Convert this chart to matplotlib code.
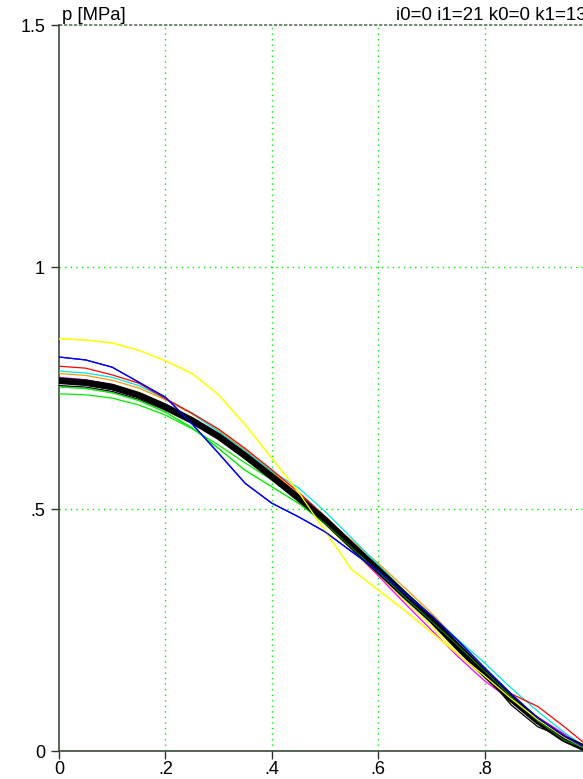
import matplotlib
matplotlib.use("Agg")
import matplotlib.pyplot as plt

plt.rcParams['font.family'] = ['Liberation Sans', 'DejaVu Sans']

x = [0.00, 0.05, 0.10, 0.15, 0.20, 0.25, 0.30, 0.35, 0.40, 0.45, 0.50,
     0.55, 0.60, 0.65, 0.70, 0.75, 0.80, 0.85, 0.90, 0.95, 1.00]

mean_p = [0.765, 0.761, 0.752, 0.735, 0.711, 0.683, 0.650, 0.610, 0.567, 0.523, 0.477,
          0.425, 0.374, 0.322, 0.272, 0.215, 0.160, 0.108, 0.062, 0.025, 0.000]
yellow1 = [0.852, 0.849, 0.843, 0.828, 0.806, 0.780, 0.736, 0.674, 0.605, 0.535, 0.455,
           0.375, 0.333, 0.290, 0.245, 0.200, 0.155, 0.108, 0.065, 0.028, 0.000]
blue = [0.814, 0.808, 0.793, 0.762, 0.731, 0.676, 0.615, 0.553, 0.512, 0.484, 0.453,
        0.412, 0.372, 0.325, 0.280, 0.228, 0.172, 0.118, 0.068, 0.030, 0.000]
red = [0.795, 0.791, 0.777, 0.760, 0.728, 0.698, 0.665, 0.625, 0.581, 0.535, 0.485,
       0.432, 0.378, 0.325, 0.275, 0.222, 0.170, 0.118, 0.092, 0.050, 0.005]
cyan = [0.785, 0.781, 0.772, 0.755, 0.728, 0.697, 0.660, 0.620, 0.578, 0.544, 0.495,
        0.440, 0.385, 0.330, 0.280, 0.230, 0.182, 0.130, 0.082, 0.038, 0.000]
magenta = [0.772, 0.767, 0.757, 0.739, 0.714, 0.684, 0.650, 0.608, 0.565, 0.520, 0.470,
           0.418, 0.362, 0.305, 0.250, 0.195, 0.145, 0.105, 0.070, 0.035, 0.000]
black_thin = [0.755, 0.752, 0.743, 0.727, 0.704, 0.677, 0.645, 0.606, 0.563, 0.519, 0.472,
              0.422, 0.370, 0.318, 0.266, 0.212, 0.160, 0.095, 0.050, 0.028, 0.000]
green1 = [0.738, 0.736, 0.729, 0.715, 0.694, 0.666, 0.632, 0.595, 0.560, 0.525, 0.480,
          0.428, 0.376, 0.325, 0.275, 0.222, 0.168, 0.115, 0.062, 0.020, 0.000]
green2 = [0.752, 0.749, 0.740, 0.724, 0.700, 0.668, 0.625, 0.580, 0.546, 0.512, 0.470,
          0.420, 0.370, 0.318, 0.268, 0.218, 0.165, 0.112, 0.062, 0.022, 0.000]
orange = [0.780, 0.776, 0.766, 0.750, 0.726, 0.696, 0.662, 0.622, 0.578, 0.530, 0.480,
          0.435, 0.388, 0.337, 0.285, 0.228, 0.170, 0.115, 0.065, 0.028, 0.000]
yellow2 = [0.770, 0.766, 0.757, 0.741, 0.716, 0.686, 0.650, 0.610, 0.565, 0.518, 0.468,
           0.415, 0.362, 0.310, 0.258, 0.200, 0.152, 0.102, 0.058, 0.025, 0.000]
white = [0.759, 0.755, 0.746, 0.729, 0.705, 0.677, 0.644, 0.604, 0.561, 0.517, 0.471,
         0.419, 0.368, 0.316, 0.266, 0.210, 0.156, 0.104, 0.058, 0.022, 0.000]

thin_series = [
    (yellow2, '#ffff00'), (orange, '#ff9900'), (magenta, '#ff00ff'), (cyan, '#00e5e5'),
    (red, '#ff0000'), (green2, '#00ee00'), (green1, '#00ee00'), (black_thin, '#000000'),
    (white, '#ffffff'), (blue, '#0000ff'), (yellow1, '#ffff00'),
]

xticks = [0, 0.2, 0.4, 0.6, 0.8, 1.0]
xticklabels = ['0', '.2', '.4', '.6', '.8', 'a']
yticks = [0, 0.5, 1.0, 1.5]
yticklabels = ['0', '.5', '1', '1.5']

W, H = 583, 779
fig = plt.figure(figsize=(W / 100, H / 100), dpi=100)
left, right, top, bottom = 59, 591, 25, 751
ax = fig.add_axes([left / W, 1 - bottom / H, (right - left) / W, (bottom - top) / H])
ax.set_xlim(0, 1)
ax.set_ylim(0, 1.5)

for i, (ys, c) in enumerate(thin_series):
    ax.plot(x, ys, color=c, lw=0.9, zorder=3)
ax.plot(x, mean_p, color='black', lw=4.8, zorder=4)
# a couple of thin lines that show on top of the thick mean
ax.plot(x, green2, color='#00ee00', lw=0.7, zorder=5, alpha=0.6)
ax.plot(x, yellow1, color='#ffff00', lw=0.9, zorder=5)
ax.plot(x, blue, color='#0000ff', lw=0.9, zorder=5)

for gx in [0.2, 0.4, 0.6, 0.8]:
    ax.axvline(gx, color='#00ee00', lw=1.0, ls=(0, (1, 3)), zorder=1)
for gy in [0.5, 1.0]:
    ax.axhline(gy, color='#00ee00', lw=1.0, ls=(0, (1, 3)), zorder=1)
ax.axhline(1.5, color='#5a7a5a', lw=1.2, ls=(0, (2, 1)), zorder=1, clip_on=False)

ax.spines['top'].set_visible(False)
ax.spines['right'].set_visible(False)
ax.spines['left'].set_color('#3a4a3a')
ax.spines['bottom'].set_color('#3a4a3a')
ax.spines['left'].set_linewidth(1.2)
ax.spines['bottom'].set_linewidth(1.2)

ax.set_xticks(xticks)
ax.set_xticklabels(xticklabels)
ax.set_yticks(yticks)
ax.set_yticklabels(yticklabels)
ax.tick_params(axis='x', direction='out', length=6, width=1, color='#333333',
               labelsize=13, pad=1)
ax.tick_params(axis='y', direction='out', length=6, width=1, color='#333333',
               labelsize=13, pad=4)

ax.text(0.005, 1.502, 'p [MPa]', fontsize=13.3, ha='left', va='bottom')
ax.text(0.634, 1.502, 'i0=0 i1=21 k0=0 k1=13', fontsize=13.5, ha='left', va='bottom')

fig.savefig('out.png', dpi=100)
